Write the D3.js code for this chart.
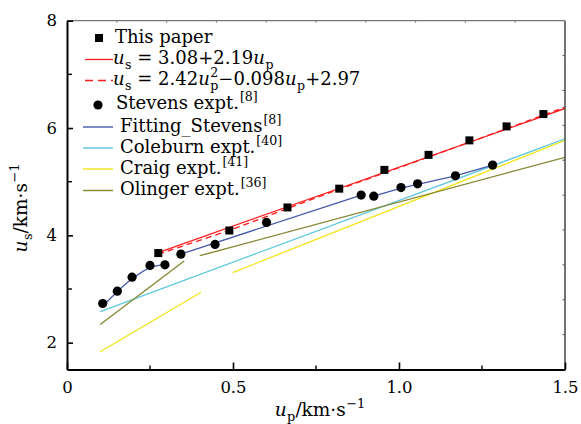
<!DOCTYPE html>
<html><head><meta charset="utf-8">
<script src="https://cdn.jsdelivr.net/npm/d3@7"></script>
<style>body{margin:0;background:#fff}svg{display:block}text{font-family:"DejaVu Serif",serif;fill:#000}</style>
</head><body><svg id="c" width="581" height="424"></svg>
<script>
// ---- data ----
const xTickValues = [0, 0.5, 1.0, 1.5];
const xTickLabels = ["0", "0.5", "1.0", "1.5"];
const xMinorTicks = [0.25, 0.75, 1.25];
const yTickValues = [2, 4, 6, 8];
const yTickLabels = ["2", "4", "6", "8"];
const yMinorTicks = [3, 5, 7];

const paperUp = [0.275, 0.489, 0.664, 0.820, 0.956, 1.089, 1.212, 1.324, 1.435];
const paperUs = [3.67, 4.09, 4.52, 4.87, 5.22, 5.50, 5.77, 6.03, 6.26];

const stevensUp = [0.1075, 0.1515, 0.196, 0.25, 0.295, 0.343, 0.446, 0.601, 0.886, 0.924, 1.006, 1.056, 1.170, 1.282];
const stevensUs = [2.73, 2.96, 3.22, 3.44, 3.45, 3.65, 3.83, 4.24, 4.75, 4.73, 4.89, 4.96, 5.11, 5.31];

const linFitUp = [0.275, 1.5];
const linFitUs = [3.68, 6.365];
const quadFitUp = [0.275, 0.5, 0.75, 1.0, 1.25, 1.5];
const quadFitUs = [3.65, 4.12, 4.70, 5.26, 5.82, 6.39];

const fitStevens1Up = [0.1075, 0.1515, 0.196, 0.25, 0.295];
const fitStevens1Us = [2.68, 2.95, 3.19, 3.40, 3.46];
const fitStevens2Up = [0.343, 0.886];
const fitStevens2Us = [3.65, 4.75];
const fitStevens3Up = [0.924, 1.006, 1.056, 1.170, 1.282];
const fitStevens3Us = [4.73, 4.88, 4.95, 5.11, 5.31];

const coleburnUp = [0.1, 1.5];
const coleburnUs = [2.58, 5.80];
const craig1Up = [0.1, 0.404];
const craig1Us = [1.83, 2.94];
const craig2Up = [0.499, 1.5];
const craig2Us = [3.305, 5.77];
const olinger1Up = [0.1, 0.353];
const olinger1Us = [2.34, 3.52];
const olinger2Up = [0.40, 1.5];
const olinger2Us = [3.62, 5.455];

// ---- layout ----
const svg = d3.select("#c");
const L = 67, R = 565, T = 20.7, B = 369.5;
const x = d3.scaleLinear().domain([0, 1.5]).range([L, R]);
const y = d3.scaleLinear().domain([1.5, 8]).range([B, T]);

const col = {red:"#ff1c1c", blue:"#4658aa", cyan:"#5cc8dc", yellow:"#f2e419", olive:"#868630"};

svg.append("defs").append("clipPath").attr("id","clip")
  .append("rect").attr("x",L).attr("y",T).attr("width",R-L).attr("height",B-T);
const plot = svg.append("g").attr("clip-path","url(#clip)");

const zip = (a,b) => a.map((v,i)=>[v,b[i]]);
const lineGen = d3.line().x(d=>x(d[0])).y(d=>y(d[1]));
const curveGen = d3.line().x(d=>x(d[0])).y(d=>y(d[1])).curve(d3.curveCatmullRom);

function drawLine(up, us, color, gen, dash){
  const p = plot.append("path").datum(zip(up,us)).attr("d",gen||lineGen)
    .attr("fill","none").attr("stroke",color).attr("stroke-width",1.3);
  if(dash) p.attr("stroke-dasharray",dash);
}
drawLine(coleburnUp, coleburnUs, col.cyan);
drawLine(craig1Up, craig1Us, col.yellow);
drawLine(craig2Up, craig2Us, col.yellow);
drawLine(olinger1Up, olinger1Us, col.olive);
drawLine(olinger2Up, olinger2Us, col.olive);
drawLine(fitStevens1Up, fitStevens1Us, col.blue, curveGen);
drawLine(fitStevens2Up, fitStevens2Us, col.blue);
drawLine(fitStevens3Up, fitStevens3Us, col.blue);
drawLine(linFitUp, linFitUs, col.red);
drawLine(quadFitUp, quadFitUs, col.red, curveGen, "6,4");

// markers
plot.selectAll("rect.sq").data(zip(paperUp,paperUs)).enter().append("rect")
  .attr("x",d=>x(d[0])-4).attr("y",d=>y(d[1])-4).attr("width",8).attr("height",8).attr("fill","#000");
plot.selectAll("circle.st").data(zip(stevensUp,stevensUs)).enter().append("circle")
  .attr("cx",d=>x(d[0])).attr("cy",d=>y(d[1])).attr("r",4.6).attr("fill","#000");

// ---- frame ----
svg.append("line").attr("x1",L).attr("x2",R).attr("y1",T).attr("y2",T).attr("stroke","#555").attr("stroke-width",1);
svg.append("line").attr("x1",R).attr("x2",R).attr("y1",T).attr("y2",B).attr("stroke","#444").attr("stroke-width",1.5);
const topTicks = d3.range(1,10).map(i=>L+(R-L)*i/10);
svg.selectAll("line.tt").data(topTicks).enter().append("line")
  .attr("x1",d=>d).attr("x2",d=>d).attr("y1",T).attr("y2",T+2).attr("stroke","#777").attr("stroke-width",1);
const rightTicks = d3.range(1,10).map(i=>T+(B-T)*i/10);
svg.selectAll("line.rt").data(rightTicks).enter().append("line")
  .attr("x1",R).attr("x2",R-2.5).attr("y1",d=>d).attr("y2",d=>d).attr("stroke","#555").attr("stroke-width",1);

// bottom axis
const gx = svg.append("g").attr("transform",`translate(0,${B})`)
  .call(d3.axisBottom(x).tickValues(xTickValues).tickFormat((d,i)=>xTickLabels[i]).tickSizeInner(-7).tickSizeOuter(0).tickPadding(12));
gx.selectAll("text").attr("font-family","DejaVu Serif").attr("font-size",16.5).attr("fill","#000");
gx.select(".domain").attr("stroke","#000").attr("stroke-width",2);
gx.selectAll(".tick line").attr("stroke","#000").attr("stroke-width",1.6);
svg.selectAll("line.xm").data(xMinorTicks).enter().append("line")
  .attr("x1",d=>x(d)).attr("x2",d=>x(d)).attr("y1",B).attr("y2",B-4).attr("stroke","#000").attr("stroke-width",1.4);

// left axis
const gy = svg.append("g").attr("transform",`translate(${L},0)`)
  .call(d3.axisLeft(y).tickValues(yTickValues).tickFormat((d,i)=>yTickLabels[i]).tickSizeInner(-6).tickSizeOuter(0).tickPadding(10));
gy.selectAll("text").attr("font-family","DejaVu Serif").attr("font-size",16.5).attr("fill","#000");
gy.select(".domain").attr("stroke","#000").attr("stroke-width",2);
gy.selectAll(".tick line").attr("stroke","#000").attr("stroke-width",1.6);
svg.selectAll("line.ym").data(yMinorTicks).enter().append("line")
  .attr("x1",L).attr("x2",L+5).attr("y1",d=>y(d)).attr("y2",d=>y(d)).attr("stroke","#000").attr("stroke-width",1.4);

// ---- rich text helper ----
function rich(t, parts, size){
  let off = 0;
  parts.forEach(p=>{
    const ts = t.append("tspan").text(p.t);
    let target = 0, fs = size;
    if(p.pos==="sub"){ target = 0.28*size; fs = 0.7*size; }
    if(p.pos==="sup"){ target = -0.42*size; fs = 0.7*size; }
    ts.attr("dy", target-off).attr("font-size",fs);
    if(p.dx) ts.attr("dx",p.dx);
    if(p.i) ts.attr("font-style","italic");
    off = target;
  });
}

// axis titles
const xt = svg.append("text").attr("x",320).attr("y",416).attr("text-anchor","middle").attr("font-size",18.5);
rich(xt,[{t:"u",i:1},{t:"p",pos:"sub",dx:0.5},{t:"/km·s"},{t:"−1",pos:"sup",dx:0.5}],18.5);
const yt = svg.append("text").attr("transform","translate(27,208) rotate(-90)").attr("text-anchor","middle").attr("font-size",18.5);
rich(yt,[{t:"u",i:1},{t:"s",pos:"sub",dx:0.5},{t:"/km·s"},{t:"−1",pos:"sup",dx:0.5}],18.5);

// ---- legend ----
const fs = 18;
const leg = svg.append("g");
leg.append("rect").attr("x",95).attr("y",34).attr("width",8).attr("height",8).attr("fill","#000");
rich(leg.append("text").attr("x",115).attr("y",43).attr("font-size",fs),[{t:"This paper"}],fs);

leg.append("line").attr("x1",85).attr("x2",113).attr("y1",59.5).attr("y2",59.5).attr("stroke",col.red).attr("stroke-width",1.3);
rich(leg.append("text").attr("x",113).attr("y",64).attr("font-size",fs),
  [{t:"u",i:1},{t:"s",pos:"sub",dx:0.5},{t:" = 3.08+2.19"},{t:"u",i:1},{t:"p",pos:"sub",dx:0.5}],fs);

leg.append("line").attr("x1",85).attr("x2",113).attr("y1",80.5).attr("y2",80.5).attr("stroke",col.red).attr("stroke-width",1.3).attr("stroke-dasharray","8,5");
rich(leg.append("text").attr("x",113).attr("y",85).attr("font-size",fs),
  [{t:"u",i:1},{t:"s",pos:"sub",dx:0.5},{t:" = 2.42"},{t:"u",i:1},{t:"p",pos:"sub",dx:0.5},{t:"2",pos:"sup",dx:-8},{t:"−0.098"},{t:"u",i:1},{t:"p",pos:"sub",dx:0.5},{t:"+2.97"}],fs);

leg.append("circle").attr("cx",98).attr("cy",105).attr("r",4.6).attr("fill","#000");
rich(leg.append("text").attr("x",116).attr("y",109).attr("font-size",fs),[{t:"Stevens expt."},{t:"[8]",pos:"sup",dx:1}],fs);

const legLines = [
  {c:col.blue, y:127, parts:[{t:"Fitting_Stevens"},{t:"[8]",pos:"sup",dx:1}]},
  {c:col.cyan, y:148, parts:[{t:"Coleburn expt."},{t:"[40]",pos:"sup",dx:1}]},
  {c:col.yellow, y:169, parts:[{t:"Craig expt."},{t:"[41]",pos:"sup",dx:1}]},
  {c:col.olive, y:190.5, parts:[{t:"Olinger expt."},{t:"[36]",pos:"sup",dx:1}]}
];
legLines.forEach(d=>{
  leg.append("line").attr("x1",83).attr("x2",113).attr("y1",d.y).attr("y2",d.y).attr("stroke",d.c).attr("stroke-width",1.4);
  rich(leg.append("text").attr("x",120).attr("y",d.y+4.5).attr("font-size",fs),d.parts,fs);
});
</script></body></html>
